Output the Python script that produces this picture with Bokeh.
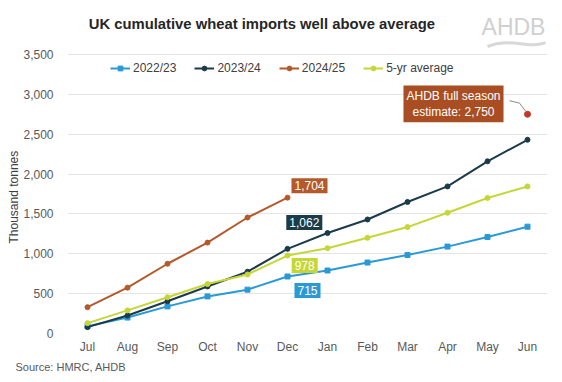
from bokeh.plotting import figure
from bokeh.models import (Range1d, Legend, LegendItem, Label, FixedTicker,
                          NumeralTickFormatter, Title)
from bokeh.embed import file_html
from bokeh.resources import INLINE

months = ["Jul", "Aug", "Sep", "Oct", "Nov", "Dec",
          "Jan", "Feb", "Mar", "Apr", "May", "Jun"]
s2223 = [90, 200, 340, 465, 550, 715, 790, 890, 985, 1090, 1210, 1340]
s2324 = [80, 225, 405, 590, 775, 1062, 1260, 1430, 1650, 1845, 2160, 2430]
s2425 = [330, 575, 875, 1140, 1455, 1704]
s5yr = [130, 290, 455, 620, 740, 978, 1070, 1200, 1335, 1515, 1700, 1845]
estimate = 2750
y_ticks = [0, 500, 1000, 1500, 2000, 2500, 3000, 3500]

C_BLUE = "#2A9AD6"
C_DARK = "#1B3B4B"
C_ORANGE = "#B4592B"
C_YELLOW = "#C5D636"
C_EST = "#A84E22"
FONT = "Liberation Sans"

W, H = 560, 378
p = figure(width=W, height=H, output_backend="svg", toolbar_location=None,
           x_range=Range1d(-0.5, 11.5), y_range=Range1d(0, 4152),
           min_border_left=67, min_border_right=13, min_border_top=2,
           min_border_bottom=45)
p.outline_line_color = None
p.background_fill_color = "white"
p.border_fill_color = "white"

p.xgrid.grid_line_color = None
p.ygrid.grid_line_color = "#e4e4e4"
p.ygrid.grid_line_width = 1

p.yaxis.ticker = FixedTicker(ticks=y_ticks)
p.yaxis.formatter = NumeralTickFormatter(format="0,0")
p.xaxis.ticker = FixedTicker(ticks=list(range(12)))
p.xaxis.major_label_overrides = {i: m for i, m in enumerate(months)}
for ax in (p.xaxis, p.yaxis):
    ax.axis_line_color = None
    ax.major_tick_line_color = None
    ax.minor_tick_line_color = None
    ax.major_tick_out = 0
    ax.major_tick_in = 0
    ax.minor_tick_out = 0
    ax.minor_tick_in = 0
    ax.major_label_text_font = FONT
    ax.major_label_text_font_size = "12px"
    ax.major_label_text_color = "#595959"
p.yaxis.major_label_standoff = 14
p.xaxis.major_label_standoff = 6

ylab = Title(text="Thousand tonnes", align="left", offset=90, standoff=0,
             text_font=FONT, text_font_size="12px", text_font_style="normal",
             text_color="#404040")
p.add_layout(ylab, "left")

xs = list(range(12))
items = []
def series(vals, color, marker, label, size=5):
    x = xs[:len(vals)]
    r1 = p.line(x, vals, line_color=color, line_width=2)
    r2 = p.scatter(x, vals, marker=marker, size=size, fill_color=color,
                   line_color=color)
    items.append(LegendItem(label=label, renderers=[r1, r2]))

series(s2223, C_BLUE, "square", "2022/23")
series(s2324, C_DARK, "circle", "2023/24")
series(s2425, C_ORANGE, "circle", "2024/25")
series(s5yr, C_YELLOW, "circle", "5-yr average")

# estimate point and connector
p.line([10.55, 10.8, 10.95], [estimate + 170, estimate + 140, estimate + 40],
       line_color="#8a8a8a", line_width=1)
p.scatter([11], [estimate], size=6, fill_color="#C0392B", line_color="#C0392B")

legend = Legend(items=items, orientation="horizontal", location=(43, 258),
                border_line_color=None, background_fill_alpha=0,
                label_text_font=FONT, label_text_font_size="12px",
                label_text_color="#404040", glyph_width=20, glyph_height=12,
                label_standoff=3, spacing=18, padding=0, margin=0)
p.add_layout(legend)

def box(x, y, text, color):
    p.add_layout(Label(x=x, y=y, text=text, text_align="center",
                       text_baseline="middle", text_color="white",
                       text_font=FONT, text_font_size="12px",
                       background_fill_color=color, padding=3))

box(5.55, s2425[5] + 150, "1,704", C_ORANGE)
box(5.42, s2324[5] + 330, "1,062", C_DARK)
box(5.43, s5yr[5] - 125, "978", C_YELLOW)
box(5.5, s2223[5] - 175, "715", C_BLUE)
p.add_layout(Label(x=9.15, y=estimate + 130,
                   text="AHDB full season\nestimate: 2,750",
                   text_align="center", text_baseline="middle",
                   text_color="white", text_font=FONT, text_font_size="12px",
                   background_fill_color=C_EST, padding=3))

# title and logo (inside the top of the frame)
p.add_layout(Label(x=4.36, y=3877, text="UK cumulative wheat imports well above average",
                   text_align="center", text_baseline="middle",
                   text_font=FONT, text_font_size="14.8px", text_font_style="bold",
                   text_color="#262626"))
p.add_layout(Label(x=10.65, y=3840, text="AHDB", text_align="center",
                   text_baseline="middle", text_font=FONT,
                   text_font_size="23px", text_color="#d0d0d0"))
p.bezier(x0=[10.0], y0=[3600], x1=[11.45], y1=[3650], cx0=[10.6], cy0=[3720],
         cx1=[11.0], cy1=[3560], line_color="#d8d8d8", line_width=3)

# source
src = Title(text="Source: HMRC, AHDB", align="left", offset=-52, standoff=4,
            text_font=FONT, text_font_size="11px", text_font_style="normal",
            text_color="#595959")
p.add_layout(src, "below")

open("out.html", "w").write(file_html(p, INLINE))
